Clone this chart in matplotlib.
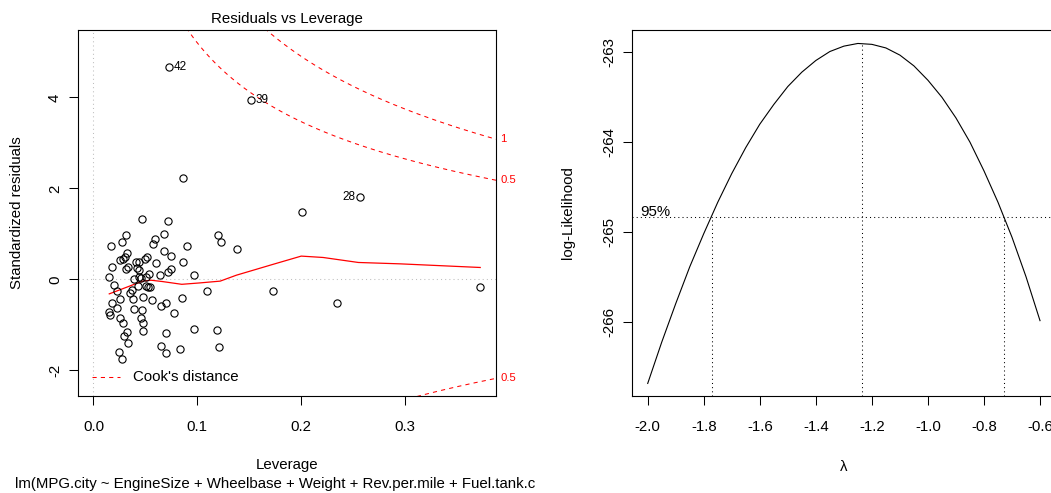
import numpy as np
import matplotlib
matplotlib.use('Agg')
import matplotlib.pyplot as plt
from matplotlib.transforms import blended_transform_factory

plt.rcParams['font.family'] = ['Liberation Sans', 'DejaVu Sans']
plt.rcParams['axes.unicode_minus'] = False

# --- Residuals vs Leverage data (first three are the labelled cases) ---
leverage = [
    0.0728, 0.1516, 0.2565, 0.2008, 0.0859, 0.173, 0.2346, 0.3723,
    0.0467, 0.0721, 0.120, 0.123, 0.138, 0.0309, 0.0270, 0.0164,
    0.0593, 0.0570, 0.0676, 0.0897, 0.0319, 0.0676, 0.0750, 0.0306,
    0.0287, 0.0255, 0.0520, 0.0493, 0.0442, 0.0410, 0.0600, 0.0860,
    0.0178, 0.0335, 0.0310, 0.0420, 0.0440, 0.0718, 0.0750, 0.0152,
    0.0434, 0.0538, 0.0640, 0.0972, 0.0393, 0.0460, 0.0505, 0.0431,
    0.0506, 0.0528, 0.0547, 0.0200, 0.0222, 0.0350, 0.0374, 0.0377,
    0.0473, 0.0560, 0.0853, 0.1090, 0.0255, 0.0178, 0.0226, 0.0386,
    0.0467, 0.0650, 0.0700, 0.0772, 0.0152, 0.0160, 0.0255, 0.0280,
    0.0454, 0.0473, 0.0319, 0.0290, 0.0332, 0.0473, 0.0700, 0.0972,
    0.1190, 0.0647, 0.0700, 0.0837, 0.1213, 0.0241, 0.0274,
]
std_resid = [
    4.66, 3.94, 1.82, 1.49, 2.22, -0.26, -0.53, -0.18,
    1.32, 1.28, 0.97, 0.81, 0.66, 0.97, 0.83, 0.74,
    0.88, 0.77, 1.00, 0.74, 0.57, 0.62, 0.51, 0.50,
    0.44, 0.42, 0.48, 0.44, 0.38, 0.37, 0.35, 0.37,
    0.28, 0.27, 0.22, 0.24, 0.20, 0.17, 0.22, 0.06,
    0.06, 0.11, 0.10, 0.10, 0.00, 0.03, 0.05, -0.15,
    -0.15, -0.16, -0.16, -0.13, -0.25, -0.29, -0.24, -0.43,
    -0.38, -0.45, -0.42, -0.26, -0.44, -0.51, -0.62, -0.65,
    -0.67, -0.59, -0.53, -0.75, -0.71, -0.78, -0.84, -0.95,
    -0.86, -0.95, -1.16, -1.25, -1.41, -1.14, -1.19, -1.10,
    -1.11, -1.47, -1.61, -1.53, -1.49, -1.60, -1.76,
]
id_index = [0, 1, 2]
id_text = ['42', '39', '28']
id_side = ['right', 'right', 'left']

# lowess smoother through the residuals
smooth_lev = [0.0152, 0.0473, 0.0554, 0.0666, 0.0850, 0.102, 0.122,
              0.1375, 0.173, 0.200, 0.221, 0.255, 0.295, 0.3723]
smooth_res = [-0.32, -0.04, -0.02, -0.05, -0.11, -0.08, -0.04,
              0.09, 0.33, 0.51, 0.48, 0.37, 0.34, 0.26]

# Cook's distance contours
cook_levels = [0.5, 1.0]
n_coef = 6

lev_xticks = [0.0, 0.1, 0.2, 0.3]
res_yticks = [-2, 0, 2, 4]

# --- Box-Cox profile log-likelihood ---
bc_lambda = [-2.00, -1.95, -1.90, -1.85, -1.80, -1.75, -1.70, -1.65, -1.60,
             -1.55, -1.50, -1.45, -1.40, -1.35, -1.30, -1.25, -1.20, -1.15,
             -1.10, -1.05, -1.00, -0.95, -0.90, -0.85, -0.80, -0.75, -0.70,
             -0.65, -0.60]
bc_loglik = [-266.69, -266.23, -265.80, -265.39, -265.02, -264.67, -264.35,
             -264.06, -263.80, -263.58, -263.38, -263.22, -263.09, -262.99,
             -262.93, -262.90, -262.91, -262.95, -263.03, -263.15, -263.31,
             -263.50, -263.73, -264.00, -264.32, -264.67, -265.06, -265.50,
             -265.99]
lambda_hat = -1.236
loglik_max = -262.90
ci_lambda = [-1.769, -0.727]
loglik_95 = -264.83

bc_xticks = [-2.0, -1.8, -1.6, -1.4, -1.2, -1.0, -0.8, -0.6]
bc_yticks = [-263, -264, -265, -266]

FS = 10.8
W, H = 1051, 493
DOTTED = (0, (1, 3))
DASHED = (0, (4, 4))


def px_box(x0, x1, y0, y1):
    """Axes rectangle from pixel edges (origin top-left)."""
    return [x0 / W, 1 - y1 / H, (x1 - x0) / W, (y1 - y0) / H]


def style_axes(ax):
    for s in ax.spines.values():
        s.set_linewidth(0.8)
        s.set_color('black')
    ax.tick_params(direction='out', length=6.5, width=0.75, labelsize=FS,
                   color='black', labelcolor='black')
    ax.tick_params(axis='x', pad=10.5)
    ax.tick_params(axis='y', pad=5, labelrotation=90)
    for lab in ax.get_yticklabels():
        lab.set_va('center')


fig = plt.figure(figsize=(W / 100, H / 100), dpi=100)

# --- Left panel: Residuals vs Leverage ---
ax1 = fig.add_axes(px_box(78, 496, 30, 396))
ax1.set_xlim(-0.0149, 0.3875)
ax1.set_ylim(-2.565, 5.48)

ax1.axhline(0, color='#BEBEBE', lw=0.75, ls=DOTTED, zorder=1)
ax1.axvline(0, color='#BEBEBE', lw=0.75, ls=DOTTED, zorder=1)

ax1.plot(leverage, std_resid, 'o', mfc='none', mec='black', ms=5.2, mew=0.8, zorder=3)
ax1.plot(smooth_lev, smooth_res, color='red', lw=0.9, zorder=2)

x_right = ax1.get_xlim()[1]
hh = np.linspace(0.005, x_right, 200)
edge = blended_transform_factory(ax1.transAxes, ax1.transData)
for lvl in cook_levels:
    bound = np.sqrt(lvl * n_coef * (1 - hh) / hh)
    ax1.plot(hh, bound, color='red', lw=0.75, ls=DASHED, zorder=2)
    ax1.plot(hh, -bound, color='red', lw=0.75, ls=DASHED, zorder=2)
    yr = np.sqrt(lvl * n_coef * (1 - x_right) / x_right)
    for y in (yr, -yr):
        if ax1.get_ylim()[0] < y < ax1.get_ylim()[1]:
            ax1.text(1.01, y, f'{lvl:g}', transform=edge, color='red',
                     fontsize=FS * 0.75, ha='left', va='center', clip_on=False)

for i, txt, side in zip(id_index, id_text, id_side):
    dx = 3.5 if side == 'right' else -3.5
    ax1.annotate(txt, (leverage[i], std_resid[i]), xytext=(dx, 0),
                 textcoords='offset points', fontsize=FS * 0.78,
                 ha='left' if side == 'right' else 'right', va='center')

# Cook's distance key, bottom-left
ax1.plot([0.0335, 0.1005], [0.052, 0.052], transform=ax1.transAxes,
         color='red', lw=0.75, ls=DASHED)
ax1.text(0.1316, 0.052, "Cook's distance", transform=ax1.transAxes,
         fontsize=FS, ha='left', va='center')

ax1.set_xticks(lev_xticks)
ax1.set_xticklabels([f'{v:.1f}' for v in lev_xticks])
ax1.set_yticks(res_yticks)
ax1.set_yticklabels([f'{v:d}' for v in res_yticks])
style_axes(ax1)
ax1.set_title('Residuals vs Leverage', fontsize=FS, pad=5)

fig.text(17.5 / W, 1 - 213 / H, 'Standardized residuals', rotation=90,
         ha='center', va='center', fontsize=FS)
fig.text(287 / W, 1 - 465 / H, 'Leverage', ha='center', va='center', fontsize=FS)
fig.text(15 / W, 1 - 484 / H,
         'lm(MPG.city ~ EngineSize + Wheelbase + Weight + Rev.per.mile + Fuel.tank.c',
         ha='left', va='center', fontsize=FS)

# --- Right panel: Box-Cox log-likelihood ---
ax2 = fig.add_axes(px_box(632.3, 1055.7, 30, 396))
ax2.set_xlim(-2.055, -0.544)
ax2.set_ylim(-266.83, -262.75)

ax2.plot(bc_lambda, bc_loglik, color='black', lw=0.8)
ax2.axhline(loglik_95, color='black', lw=0.75, ls=DOTTED)
y_bottom = ax2.get_ylim()[0]
ax2.vlines([lambda_hat] + ci_lambda, y_bottom,
           [loglik_max, loglik_95, loglik_95], color='black', lw=0.75, ls=DOTTED)
ax2.text(-2.0275, loglik_95 + 0.012, '95%', ha='left', va='baseline', fontsize=FS)

ax2.set_xticks(bc_xticks)
ax2.set_xticklabels([f'{v:.1f}' for v in bc_xticks])
ax2.set_yticks(bc_yticks)
ax2.set_yticklabels([f'{v:d}' for v in bc_yticks])
style_axes(ax2)

fig.text(568 / W, 1 - 213 / H, 'log-Likelihood', rotation=90,
         ha='center', va='center', fontsize=FS)
fig.text(844 / W, 1 - 467 / H, '\u03bb', ha='center', va='center', fontsize=FS)

fig.savefig('out.png', dpi=100)
